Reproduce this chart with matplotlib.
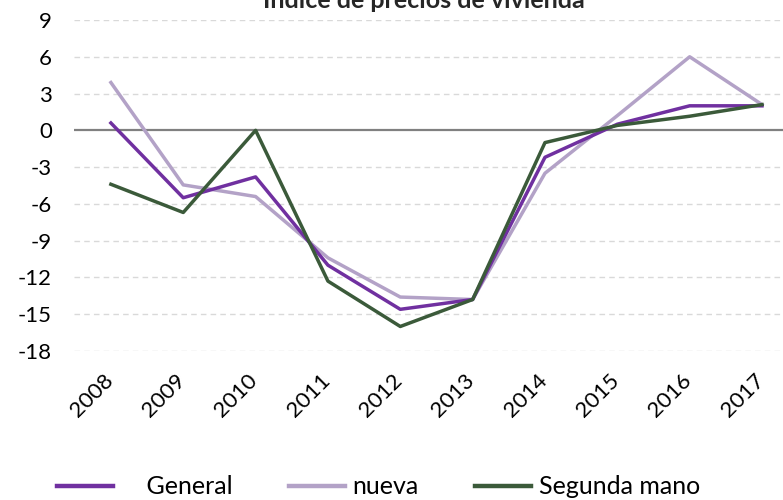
import matplotlib.pyplot as plt
import matplotlib.transforms as mtransforms

plt.rcParams['font.family'] = ['Lato', 'DejaVu Sans']

years = ["2008", "2009", "2010", "2011", "2012", "2013", "2014", "2015", "2016", "2017"]
general = [0.6, -5.5, -3.8, -11.0, -14.6, -13.8, -2.2, 0.5, 2.0, 2.0]
nueva = [3.9, -4.45, -5.4, -10.4, -13.6, -13.8, -3.5, 1.2, 6.0, 2.1]
segunda = [-4.4, -6.7, 0.0, -12.3, -16.0, -13.8, -1.0, 0.4, 1.15, 2.1]
yticks = [9, 6, 3, 0, -3, -6, -9, -12, -15, -18]

fig = plt.figure(figsize=(7.83, 5.0), dpi=100)
ax = fig.add_axes([74 / 783, 1 - 351 / 500, 1 - 74 / 783, (351 - 20) / 500])

x = list(range(len(years)))

# grid y línea de cero
for v in yticks:
    if v == 0:
        ax.axhline(0, color="#808080", lw=1.6, zorder=1.5)
    else:
        ax.axhline(v, color="#D9D9D9", lw=1.0, ls=(0, (4, 3)), zorder=1)

ax.plot(x, general, color="#7030A0", lw=2.5, label="    General", zorder=3)
ax.plot(x, nueva, color="#B3A2C7", lw=2.5, label="nueva", zorder=2)
ax.plot(x, segunda, color="#3B5A3A", lw=2.5, label="Segunda mano", zorder=4)

ax.set_xlim(-0.51, 9.29)
ax.set_ylim(-18, 9)
ax.set_yticks(yticks)
ax.set_yticklabels([str(v) for v in yticks])
ax.set_xticks(x)
ax.set_xticklabels(years, rotation=45, ha="right")

ax.tick_params(axis="both", length=0, labelsize=16, colors="#000000")
ax.tick_params(axis="y", pad=16)
ax.tick_params(axis="x", pad=14)
for s in ax.spines.values():
    s.set_visible(False)

offset = mtransforms.ScaledTranslation(6 / 100, 0, fig.dpi_scale_trans)
for lab in ax.get_xticklabels():
    lab.set_transform(lab.get_transform() + offset)

fig.text(424 / 783, 1 - 8 / 500, "Índice de precios de vivienda", ha="center", va="baseline",
         fontsize=18, fontweight="bold", color="#262626")

leg = fig.legend(loc="center left", bbox_to_anchor=(47 / 783, 1 - 487 / 500), ncol=3,
                 frameon=False, fontsize=18, handlelength=2.25, handletextpad=0.3,
                 columnspacing=2.25, borderaxespad=0)
for h in leg.get_lines():
    h.set_linewidth(3.2)

fig.savefig("out.png", dpi=100)
